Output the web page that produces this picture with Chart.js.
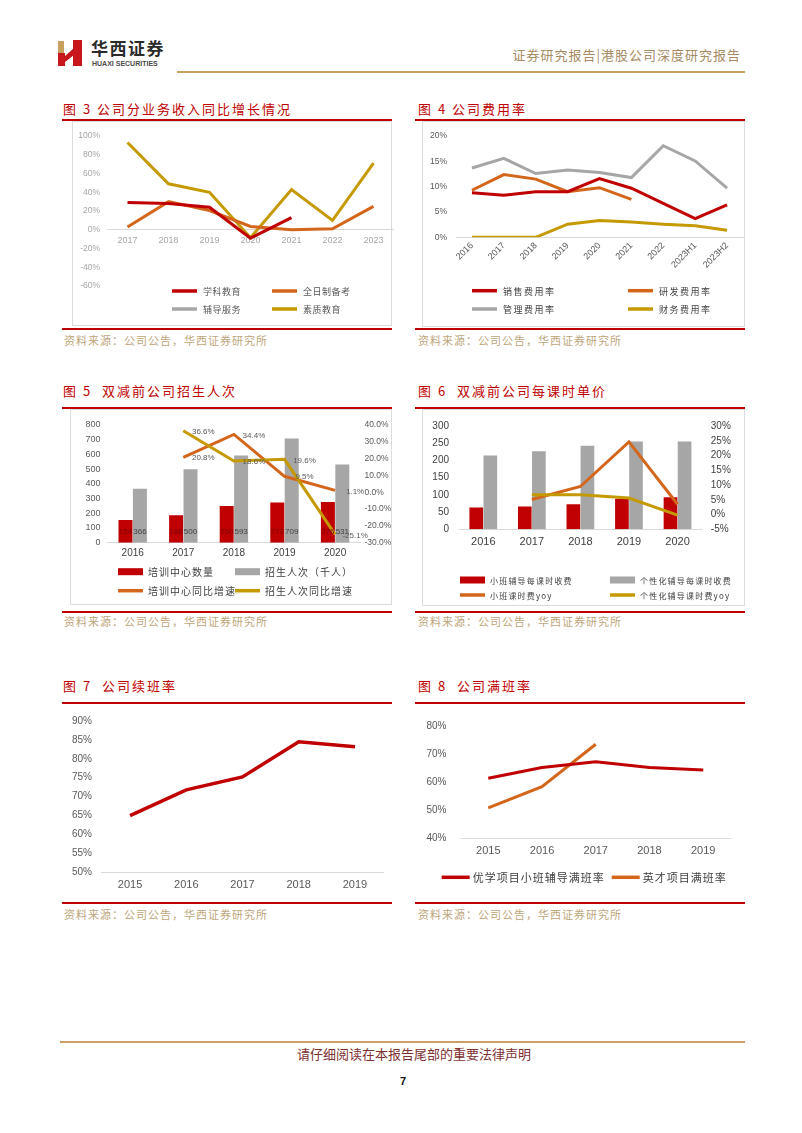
<!DOCTYPE html>
<html>
<head>
<meta charset="utf-8">
<script src="https://cdn.jsdelivr.net/npm/chart.js@4.4.1/dist/chart.umd.min.js"></script>
<style>
body { margin: 0; width: 802px; height: 1133px; background: #fff; position: relative; overflow: hidden; font-family: "Noto Sans CJK SC", sans-serif; }
.abs { position: absolute; white-space: nowrap; }
.ttl { font-size: 13px; color: #c00000; letter-spacing: 2px; line-height: 16px; }
.src { font-size: 11px; color: #bda67a; letter-spacing: 1px; line-height: 14px; }
.rl { position: absolute; height: 2px; background: #c00000; }
.box { position: absolute; border: 1px solid #dcdcdc; box-sizing: border-box; }
canvas { position: absolute; }
</style>
</head>
<body>

<svg class="abs" style="left:56px;top:38px" width="30" height="30" viewBox="0 0 30 30">
  <polygon points="2,3 8,3 8,17 2,17" fill="#c9a15e"/>
  <polygon points="2,15 9,15 9,28 2,28" fill="#c8161d"/>
  <polygon points="9,18 18,10 18,17 9,24" fill="#c8161d"/>
  <polygon points="17,2 26,2 26,28 17,28" fill="#c8161d"/>
</svg>
<div class="abs" style="left:91px;top:37px;font-size:17px;font-weight:bold;color:#2b2b2b;letter-spacing:1.5px;line-height:22px">华西证券</div>
<div class="abs" style="left:92px;top:59px;font-size:7px;font-family:'Liberation Sans';font-weight:bold;color:#4a4a4a;line-height:9px">HUAXI SECURITIES</div>
<div class="abs" style="left:177px;top:71px;width:568px;height:2px;background:#c8a064"></div>
<div class="abs" style="right:61px;top:47px;font-size:13px;color:#a58b63;letter-spacing:1px;line-height:16px">证券研究报告|港股公司深度研究报告</div>

<!-- 第一行 -->
<div class="abs ttl" style="left:63px;top:101px">图 3 公司分业务收入同比增长情况</div>
<div class="rl" style="left:62px;top:119px;width:330px"></div>
<div class="box" style="left:72px;top:121px;width:320px;height:205px"></div>
<canvas id="c3" width="321" height="203" style="left:73px;top:122px"></canvas>
<div class="rl" style="left:62px;top:328px;width:330px"></div>
<div class="abs src" style="left:64px;top:333px">资料来源：公司公告，华西证券研究所</div>

<div class="abs ttl" style="left:418px;top:101px">图 4 公司费用率</div>
<div class="rl" style="left:415px;top:119px;width:330px"></div>
<div class="box" style="left:422px;top:121px;width:323px;height:206px"></div>
<canvas id="c4" width="322" height="205" style="left:423px;top:122px"></canvas>
<div class="rl" style="left:415px;top:328px;width:330px"></div>
<div class="abs src" style="left:418px;top:333px">资料来源：公司公告，华西证券研究所</div>

<!-- 第二行 -->
<div class="abs ttl" style="left:63px;top:383px">图 5&nbsp;&nbsp;双减前公司招生人次</div>
<div class="rl" style="left:62px;top:407px;width:330px"></div>
<div class="box" style="left:70px;top:409px;width:322px;height:196px"></div>
<canvas id="c5" width="321" height="193" style="left:71px;top:410px"></canvas>
<div class="rl" style="left:62px;top:611px;width:330px"></div>
<div class="abs src" style="left:64px;top:614px">资料来源：公司公告，华西证券研究所</div>

<div class="abs ttl" style="left:418px;top:383px">图 6&nbsp;&nbsp;双减前公司每课时单价</div>
<div class="rl" style="left:415px;top:407px;width:330px"></div>
<div class="box" style="left:422px;top:409px;width:323px;height:197px"></div>
<canvas id="c6" width="322" height="195" style="left:423px;top:410px"></canvas>
<div class="rl" style="left:415px;top:611px;width:330px"></div>
<div class="abs src" style="left:418px;top:614px">资料来源：公司公告，华西证券研究所</div>

<!-- 第三行 -->
<div class="abs ttl" style="left:63px;top:678px">图 7&nbsp;&nbsp;公司续班率</div>
<div class="rl" style="left:62px;top:702px;width:330px"></div>
<canvas id="c7" width="330" height="195" style="left:62px;top:705px"></canvas>
<div class="rl" style="left:62px;top:902px;width:330px"></div>
<div class="abs src" style="left:64px;top:907px">资料来源：公司公告，华西证券研究所</div>

<div class="abs ttl" style="left:418px;top:678px">图 8&nbsp;&nbsp;公司满班率</div>
<div class="rl" style="left:415px;top:702px;width:330px"></div>
<canvas id="c8" width="327" height="195" style="left:418px;top:705px"></canvas>
<div class="rl" style="left:415px;top:902px;width:330px"></div>
<div class="abs src" style="left:418px;top:907px">资料来源：公司公告，华西证券研究所</div>

<div class="abs" style="left:60px;top:1041px;width:685px;height:2px;background:#c8a064"></div>
<div class="abs" style="left:297px;top:1046px;font-size:13px;color:#7d3030;line-height:16px">请仔细阅读在本报告尾部的重要法律声明</div>
<div class="abs" style="left:400px;top:1074px;font-size:11px;font-weight:bold;font-family:'Liberation Sans';color:#111;line-height:14px">7</div>

<script>
// 图3 公司分业务收入同比增长情况
const years3 = ['2017', '2018', '2019', '2020', '2021', '2022', '2023'];
const xueke3 = [29, 28, 24, -9, 13, null, null];
const quanri3 = [3, 30, 20.5, 3.5, 0, 1, 25];
const fudao3 = [null, null, null, null, null, null, null];
const suzhi3 = [93, 49, 40, -8.5, 43, 10, 71];

// 图4 公司费用率
const years4 = ['2016', '2017', '2018', '2019', '2020', '2021', '2022', '2023H1', '2023H2'];
const xiaoshou4 = [8.8, 8.3, 9.0, 9.0, 11.6, 9.7, 6.7, 3.7, 6.4];
const yanfa4 = [9.3, 12.4, 11.5, 9.0, 9.8, 7.5, null, null, null];
const guanli4 = [13.7, 15.6, 12.6, 13.3, 12.8, 11.8, 18.1, 15.1, 9.7];
const caiwu4 = [0, 0, 0, 2.6, 3.3, 3.0, 2.6, 2.3, 1.4];

// 图5 双减前公司招生人次
const years5 = ['2016', '2017', '2018', '2019', '2020'];
const zhongxin5 = [154, 186, 250, 273, 276];
const zhaosheng5 = [366, 500, 593, 709, 531];
const zhongxinYoy5 = [null, 20.8, 34.4, 9.5, 1.1];
const zhaoshengYoy5 = [null, 36.6, 18.6, 19.6, -25.1];

// 图6 双减前公司每课时单价
const years6 = ['2016', '2017', '2018', '2019', '2020'];
const xiaoban6 = [63, 66, 72.5, 89, 93];
const gexing6 = [214, 227, 243, 255, 255];
const xiaobanYoy6 = [null, 5.1, 9.5, 24.6, 3.5];
const gexingYoy6 = [null, 6.7, 6.7, 5.6, -0.2];

// 图7 公司续班率
const years7 = ['2015', '2016', '2017', '2018', '2019'];
const xuban7 = [65.0, 71.8, 75.2, 84.5, 83.2];

// 图8 公司满班率
const years8 = ['2015', '2016', '2017', '2018', '2019'];
const youxue8 = [61.4, 65.2, 67.3, 65.2, 64.3];
const yingcai8 = [50.8, 58.4, 73.5, null, null];

const RED = '#c00000';
const ORANGE = '#d4661c';
const GRAY = '#a6a6a6';
const GOLD = '#c49a00';
const AXIS = '#d9d9d9';
const CJK = '"Noto Sans CJK SC"';

Chart.defaults.font.family = '"Liberation Sans", "Noto Sans CJK SC", sans-serif';

function fixW(w) { return function (s) { s.width = w; }; }
function fixH(h) { return function (s) { s.height = h; }; }
function pct(v) { return v + '%'; }

// 两列图例，按数据集顺序排
const gridLegend = {
    id: 'gridLegend',
    afterDraw: function (chart, args, o) {
        const ctx = chart.ctx;
        ctx.save();
        ctx.font = o.font;
        ctx.textBaseline = 'middle';
        if ('letterSpacing' in ctx) ctx.letterSpacing = (o.spacing || 0) + 'px';
        chart.data.datasets.forEach(function (ds, i) {
            const x = o.cols[i % o.cols.length];
            const y = o.rows[Math.floor(i / o.cols.length)];
            const isBar = (ds.type || chart.config.type) === 'bar';
            if (isBar) {
                ctx.fillStyle = ds.backgroundColor;
                ctx.fillRect(x, y - 3.5, o.len, 7);
            } else {
                ctx.strokeStyle = ds.borderColor;
                ctx.lineWidth = 3.5;
                ctx.beginPath();
                ctx.moveTo(x, y);
                ctx.lineTo(x + o.len, y);
                ctx.stroke();
            }
            ctx.fillStyle = o.color;
            ctx.fillText(ds.label, x + o.len + o.gap, y + 1);
        });
        ctx.restore();
    }
};

// 图5的数据标签
const valueLabels = {
    id: 'valueLabels',
    afterDatasetsDraw: function (chart) {
        const ctx = chart.ctx;
        ctx.save();
        ctx.font = '8px "Liberation Sans"';
        ctx.textAlign = 'center';
        ctx.textBaseline = 'middle';
        chart.data.datasets.forEach(function (ds, i) {
            if (!ds.lbl) return;
            chart.getDatasetMeta(i).data.forEach(function (el, j) {
                const v = ds.data[j];
                if (v === null) return;
                ctx.fillStyle = ds.lblColor;
                if (ds.lbl === 'base') ctx.fillText(String(v), el.x, el.base - 11);
                else ctx.fillText(v.toFixed(1) + '%', el.x + 20, el.y + 1);
            });
        });
        ctx.restore();
    }
};

const base = {
    responsive: false,
    animation: false,
    devicePixelRatio: 1,
    elements: { line: { borderWidth: 3, tension: 0 }, point: { radius: 0 } }
};
const noGrid = { display: false, drawTicks: false };

new Chart(document.getElementById('c3'), {
    type: 'line',
    data: {
        labels: years3,
        datasets: [
            { label: '学科教育', data: xueke3, borderColor: RED },
            { label: '全日制备考', data: quanri3, borderColor: ORANGE },
            { label: '辅导服务', data: fudao3, borderColor: GRAY },
            { label: '素质教育', data: suzhi3, borderColor: GOLD }
        ]
    },
    options: Object.assign({}, base, {
        layout: { padding: { left: 0, right: 0, top: 14, bottom: 39 } },
        scales: {
            x: {
                position: { y: 0 }, offset: true, grid: noGrid,
                border: { color: AXIS },
                ticks: { color: '#a6a6a6', font: { size: 9 }, padding: 5 }
            },
            y: {
                min: -60, max: 100, grid: noGrid, border: { display: false }, afterFit: fixW(34),
                ticks: { stepSize: 20, autoSkip: false, callback: pct, color: '#a6a6a6', font: { size: 8.5 }, padding: 7 }
            }
        },
        plugins: {
            legend: { display: false }, tooltip: { enabled: false },
            gridLegend: { cols: [99, 199], rows: [169, 187], len: 25, gap: 6, font: '9px ' + CJK, color: '#595959', spacing: 0.5 }
        }
    }),
    plugins: [gridLegend]
});

new Chart(document.getElementById('c4'), {
    type: 'line',
    data: {
        labels: years4,
        datasets: [
            { label: '销售费用率', data: xiaoshou4, borderColor: RED },
            { label: '研发费用率', data: yanfa4, borderColor: ORANGE },
            { label: '管理费用率', data: guanli4, borderColor: GRAY },
            { label: '财务费用率', data: caiwu4, borderColor: GOLD }
        ]
    },
    options: Object.assign({}, base, {
        layout: { padding: { left: 0, right: 2, top: 14, bottom: 49.7 } },
        scales: {
            x: {
                offset: true, grid: noGrid, border: { color: AXIS }, afterFit: fixH(40),
                ticks: { autoSkip: false, color: '#595959', font: { size: 9 }, padding: 3, minRotation: 45, maxRotation: 45 }
            },
            y: {
                min: 0, max: 20, grid: noGrid, border: { display: false }, afterFit: fixW(33),
                ticks: { stepSize: 5, autoSkip: false, callback: pct, color: '#595959', font: { size: 8.5 }, padding: 9 }
            }
        },
        plugins: {
            legend: { display: false }, tooltip: { enabled: false },
            gridLegend: { cols: [49, 205], rows: [168.7, 187], len: 25, gap: 6, font: '9px ' + CJK, color: '#404040', spacing: 1.5 }
        }
    }),
    plugins: [gridLegend]
});

new Chart(document.getElementById('c5'), {
    type: 'bar',
    data: {
        labels: years5,
        datasets: [
            { label: '培训中心数量', data: zhongxin5, backgroundColor: RED, yAxisID: 'y', order: 2, lbl: 'base', lblColor: '#7a0000' },
            { label: '招生人次（千人）', data: zhaosheng5, backgroundColor: GRAY, yAxisID: 'y', order: 2, lbl: 'base', lblColor: '#404040' },
            { type: 'line', label: '培训中心同比增速', data: zhongxinYoy5, borderColor: ORANGE, yAxisID: 'y1', order: 1, lbl: 'right', lblColor: '#595959' },
            { type: 'line', label: '招生人次同比增速', data: zhaoshengYoy5, borderColor: GOLD, yAxisID: 'y1', order: 0, lbl: 'right', lblColor: '#595959' }
        ]
    },
    options: Object.assign({}, base, {
        layout: { padding: { left: 0, right: 0, top: 15, bottom: 38.3 } },
        datasets: { bar: { barPercentage: 0.97, categoryPercentage: 0.57 } },
        scales: {
            x: {
                grid: noGrid, border: { color: AXIS }, afterFit: fixH(22),
                ticks: { color: '#404040', font: { size: 10 }, padding: 5 }
            },
            y: {
                min: 0, max: 800, grid: noGrid, border: { display: false }, afterFit: fixW(36.4),
                ticks: { stepSize: 100, autoSkip: false, color: '#595959', font: { size: 9 }, padding: 7 }
            },
            y1: {
                position: 'right', min: -30, max: 40, grid: noGrid, border: { display: false }, afterFit: fixW(31.6),
                ticks: { stepSize: 10, autoSkip: false, callback: function (v) { return v.toFixed(1) + '%'; }, color: '#595959', font: { size: 8.5 }, padding: 4 }
            }
        },
        plugins: {
            legend: { display: false }, tooltip: { enabled: false },
            gridLegend: { cols: [47, 164], rows: [161.7, 180.7], len: 25, gap: 5, font: '10px ' + CJK, color: '#404040', spacing: 1 }
        }
    }),
    plugins: [valueLabels, gridLegend]
});

new Chart(document.getElementById('c6'), {
    type: 'bar',
    data: {
        labels: years6,
        datasets: [
            { label: '小班辅导每课时收费', data: xiaoban6, backgroundColor: RED, yAxisID: 'y', order: 2 },
            { label: '个性化辅导每课时收费', data: gexing6, backgroundColor: GRAY, yAxisID: 'y', order: 2 },
            { type: 'line', label: '小班课时费yoy', data: xiaobanYoy6, borderColor: ORANGE, yAxisID: 'y1', order: 1 },
            { type: 'line', label: '个性化辅导课时费yoy', data: gexingYoy6, borderColor: GOLD, yAxisID: 'y1', order: 0 }
        ]
    },
    options: Object.assign({}, base, {
        layout: { padding: { left: 0, right: 0, top: 15, bottom: 53.7 } },
        datasets: { bar: { barPercentage: 0.97, categoryPercentage: 0.58 } },
        scales: {
            x: {
                grid: noGrid, border: { color: AXIS }, afterFit: fixH(22),
                ticks: { color: '#404040', font: { size: 11 }, padding: 6 }
            },
            y: {
                min: 0, max: 300, grid: noGrid, border: { display: false }, afterFit: fixW(36),
                ticks: { stepSize: 50, autoSkip: false, color: '#404040', font: { size: 10 }, padding: 10 }
            },
            y1: {
                position: 'right', min: -5, max: 30, grid: noGrid, border: { display: false }, afterFit: fixW(43.2),
                ticks: { stepSize: 5, autoSkip: false, callback: pct, color: '#404040', font: { size: 10 }, padding: 9 }
            }
        },
        plugins: {
            legend: { display: false }, tooltip: { enabled: false },
            gridLegend: { cols: [37, 187], rows: [170, 185], len: 25, gap: 5, font: '8px ' + CJK, color: '#404040', spacing: 1.2 }
        }
    }),
    plugins: [gridLegend]
});

new Chart(document.getElementById('c7'), {
    type: 'line',
    data: {
        labels: years7,
        datasets: [
            { label: '续班率', data: xuban7, borderColor: RED, borderWidth: 3.5 }
        ]
    },
    options: Object.assign({}, base, {
        layout: { padding: { left: 0, right: 8.9, top: 10, bottom: 5.7 } },
        scales: {
            x: {
                offset: true, grid: noGrid, border: { color: AXIS }, afterFit: fixH(22),
                ticks: { color: '#595959', font: { size: 11 }, padding: 6 }
            },
            y: {
                min: 50, max: 90, grid: noGrid, border: { display: false }, afterFit: fixW(39.9),
                ticks: { stepSize: 5, autoSkip: false, callback: pct, color: '#595959', font: { size: 10 }, padding: 10 }
            }
        },
        plugins: { legend: { display: false }, tooltip: { enabled: false } }
    })
});

new Chart(document.getElementById('c8'), {
    type: 'line',
    data: {
        labels: years8,
        datasets: [
            { label: '优学项目小班辅导满班率', data: youxue8, borderColor: RED },
            { label: '英才项目满班率', data: yingcai8, borderColor: ORANGE }
        ]
    },
    options: Object.assign({}, base, {
        layout: { padding: { left: 0, right: 14.9, top: 10, bottom: 39.7 } },
        scales: {
            x: {
                offset: true, grid: noGrid, border: { color: AXIS }, afterFit: fixH(22),
                ticks: { color: '#595959', font: { size: 11 }, padding: 6 }
            },
            y: {
                min: 40, max: 80, grid: noGrid, border: { display: false }, afterFit: fixW(43.4),
                ticks: { stepSize: 10, autoSkip: false, callback: pct, color: '#595959', font: { size: 10 }, padding: 15 }
            }
        },
        plugins: {
            legend: { display: false }, tooltip: { enabled: false },
            gridLegend: { cols: [23.7, 193.7], rows: [172.3], len: 28, gap: 3, font: '11px ' + CJK, color: '#404040', spacing: 1 }
        }
    }),
    plugins: [gridLegend]
});
</script>
</body>
</html>
